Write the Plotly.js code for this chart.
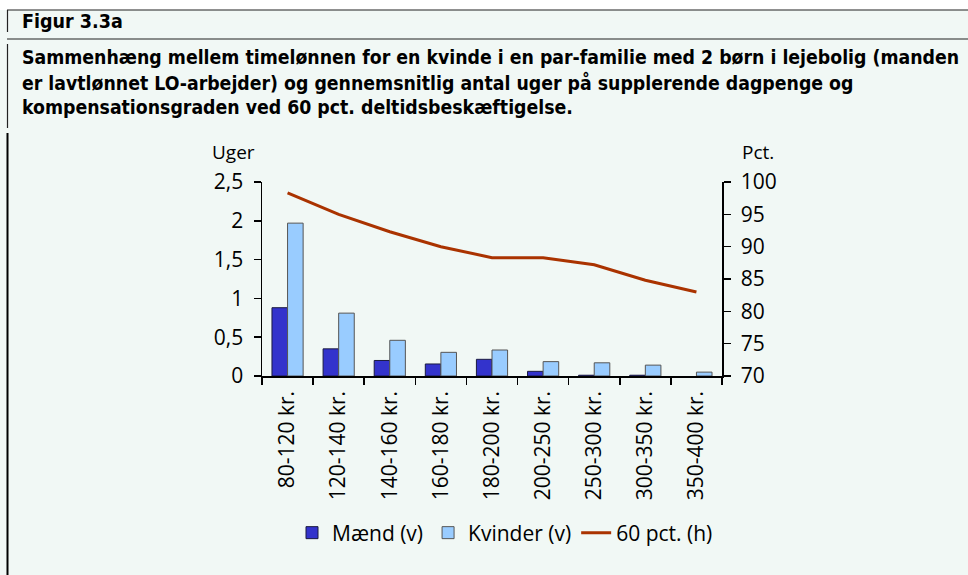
<!DOCTYPE html>
<html>
<head>
<meta charset="utf-8">
<script src="https://cdn.plot.ly/plotly-3.0.1.min.js"></script>
<style>
  html, body { margin: 0; padding: 0; background: #F1F8F5; }
  #chart { width: 968px; height: 575px; }
</style>
</head>
<body>
<div id="chart"></div>
<script>
// ---- Data ----
const categories = ["80-120 kr.", "120-140 kr.", "140-160 kr.", "160-180 kr.", "180-200 kr.",
                    "200-250 kr.", "250-300 kr.", "300-350 kr.", "350-400 kr."];
const maend   = [0.88, 0.35, 0.20, 0.155, 0.215, 0.06, 0.01, 0.01, 0.0];
const kvinder = [1.97, 0.81, 0.46, 0.305, 0.335, 0.185, 0.17, 0.14, 0.05];
const pct60   = [98.3, 95.0, 92.3, 90.0, 88.3, 88.3, 87.2, 84.8, 83.0];

const seriesNames = ["Mænd (v)", "Kvinder (v)", "60 pct. (h)"];
const leftTicks = [0, 0.5, 1, 1.5, 2, 2.5];
const rightTicks = [70, 75, 80, 85, 90, 95, 100];

const figTitle = "Figur 3.3a";
const titleLines = [
  "Sammenhæng mellem timelønnen for en kvinde i en par-familie med 2 børn i lejebolig (manden",
  "er lavtlønnet LO-arbejder) og gennemsnitlig antal uger på supplerende dagpenge og",
  "kompensationsgraden ved 60 pct. deltidsbeskæftigelse."
];

// ---- Layout helpers (pixel -> paper) ----
const L = 262, R = 722, T = 182, B = 376;
const W = 968, H = 575;
const px = v => (v - L) / (R - L);
const py = v => (B - v) / (B - T);

const bg = "#F1F8F5";
const font = "'Open Sans', sans-serif";
const headFont = "'DejaVu Sans Condensed', 'DejaVu Sans', sans-serif";

const traces = [
  {
    type: "bar", name: seriesNames[0], x: categories, y: maend,
    marker: { color: "#3333CC", line: { color: "#1a1a40", width: maend.map(v => v > 0 ? 1 : 0) } },
    yaxis: "y"
  },
  {
    type: "bar", name: seriesNames[1], x: categories, y: kvinder,
    marker: { color: "#99CCFF", line: { color: "#555555", width: kvinder.map(v => v > 0 ? 1 : 0) } },
    yaxis: "y"
  },
  {
    type: "scatter", mode: "lines", name: seriesNames[2], x: categories, y: pct60,
    line: { color: "#AA3300", width: 3 },
    yaxis: "y2"
  }
];

const annotations = [
  { text: "<b>" + figTitle + "</b>", x: px(20), y: py(21), xanchor: "left", yanchor: "middle",
    font: { family: headFont, size: 19.5, color: "#000" } },
  { text: "Uger", x: px(233), y: py(152), xanchor: "center", yanchor: "middle",
    font: { family: font, size: 19, color: "#000" } },
  { text: "Pct.", x: px(758), y: py(152), xanchor: "center", yanchor: "middle",
    font: { family: font, size: 19, color: "#000" } }
];
const lineYs = [57, 83, 107];
titleLines.forEach((t, i) => annotations.push({
  text: "<b>" + t + "</b>", x: px(20), y: py(lineYs[i]), xanchor: "left", yanchor: "middle",
  font: { family: headFont, size: 19.3, color: "#000" }
}));
annotations.forEach(a => { a.xref = "paper"; a.yref = "paper"; a.showarrow = false; });

const shapes = [
  { type: "rect", x0: px(0), x1: px(W), y0: py(0), y1: py(10), fillcolor: "#FFFFFF", line: { width: 0 }, layer: "below" },
  { type: "line", x0: px(7), x1: px(W), y0: py(10), y1: py(10), line: { color: "#222", width: 1.2 } },
  { type: "line", x0: px(7), x1: px(W), y0: py(39), y1: py(39), line: { color: "#222", width: 1.2 } },
  { type: "line", x0: px(7.5), x1: px(7.5), y0: py(10), y1: py(32), line: { color: "#222", width: 1.2 } },
  { type: "line", x0: px(7.5), x1: px(7.5), y0: py(44), y1: py(128), line: { color: "#222", width: 1.2 } },
  { type: "line", x0: px(7.5), x1: px(7.5), y0: py(133), y1: py(H), line: { color: "#000", width: 2 } }
];
shapes.forEach(s => { s.xref = "paper"; s.yref = "paper"; });

const axisCommon = {
  showline: true, linecolor: "#000", linewidth: 1.5,
  ticks: "outside", ticklen: 7, tickwidth: 1.5, tickcolor: "#000",
  showgrid: false, zeroline: false,
  tickfont: { family: font, size: 21, color: "#000" }
};

const layout = {
  width: W, height: H,
  margin: { l: L, r: W - R, t: T, b: H - B, pad: 0 },
  paper_bgcolor: bg, plot_bgcolor: bg,
  separators: ",.",
  barmode: "group", bargap: 0.39, bargroupgap: 0,
  showlegend: true,
  legend: {
    orientation: "h", x: px(505), xanchor: "center", y: py(533), yanchor: "middle",
    font: { family: font, size: 21, color: "#000" }, bgcolor: "rgba(0,0,0,0)",
    traceorder: "normal", itemwidth: 30
  },
  xaxis: Object.assign({}, axisCommon, {
    type: "category", tickson: "boundaries", tickangle: -90, ticklabelstandoff: 5,
    range: [-0.5, categories.length - 0.5]
  }),
  yaxis: Object.assign({}, axisCommon, {
    range: [0, 2.5], tickvals: leftTicks, ticklabelstandoff: 6
  }),
  yaxis2: Object.assign({}, axisCommon, {
    overlaying: "y", side: "right", range: [70, 100], tickvals: rightTicks, ticklabelstandoff: 6
  }),
  annotations: annotations,
  shapes: shapes
};

Plotly.newPlot("chart", traces, layout, { displayModeBar: false, staticPlot: true });
</script>
</body>
</html>
